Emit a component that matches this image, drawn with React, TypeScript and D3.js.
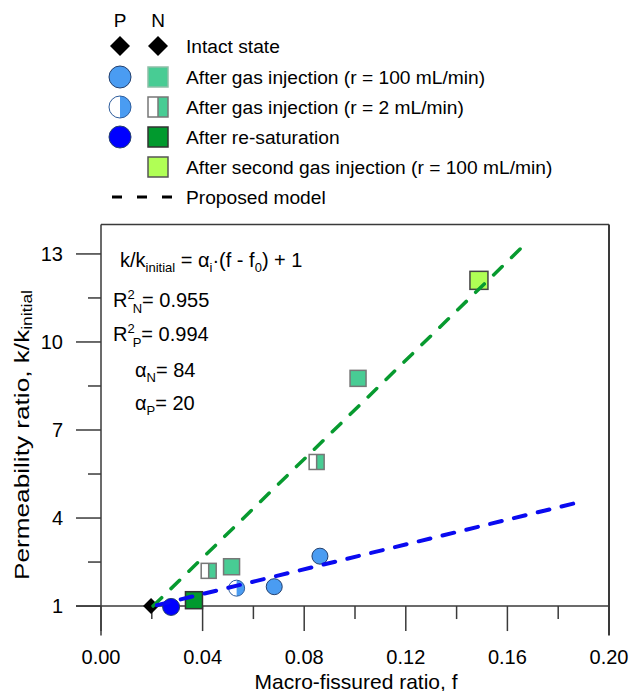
import React from 'react';
import * as d3 from 'd3';

// values
const intactState = [{ f: 0.0197, k: 1.0 }];
const pGas100 = [{ f: 0.0682, k: 1.66 }, { f: 0.0862, k: 2.7 }];
const pGas2 = [{ f: 0.0534, k: 1.61 }];
const pResat = [{ f: 0.0276, k: 0.97 }];
const nGas100 = [{ f: 0.0514, k: 2.34 }, { f: 0.1012, k: 8.76 }];
const nGas2 = [{ f: 0.0424, k: 2.2 }, { f: 0.0849, k: 5.91 }];
const nResat = [{ f: 0.0366, k: 1.2 }];
const nGasSecond = [{ f: 0.1488, k: 12.1 }];
const modelN = [{ f: 0.0205, k: 1.0 }, { f: 0.1666, k: 13.3 }];
const modelP = [{ f: 0.022, k: 1.03 }, { f: 0.1892, k: 4.56 }];

const xMajor = [0, 0.04, 0.08, 0.12, 0.16, 0.2];
const xMinor = [0.02, 0.06, 0.1, 0.14, 0.18];
const yMajor = [1, 4, 7, 10, 13];
const yMinor = [2.5, 5.5, 8.5, 11.5];

const legendLabels = [
  'Intact state',
  'After gas injection (r = 100 mL/min)',
  'After gas injection (r = 2 mL/min)',
  'After re-saturation',
  'After second gas injection (r = 100 mL/min)',
  'Proposed model',
];

const FONT = '"Liberation Sans", Arial, sans-serif';
const C = {
  lightBlue: '#4a9cf2',
  blue: '#0000ff',
  mint: '#48cc94',
  green: '#019a2e',
  lime: '#b0ff55',
  lineN: '#079a2f',
  lineP: '#0a0af0',
  axis: '#3a3a3a',
};

const x = d3.scaleLinear().domain([0, 0.2]).range([101, 609]);
const y = d3.scaleLinear().domain([0, 14]).range([635.4, 224.6]);

const Diamond = ({ cx, cy, r }: any) => (
  <path d={`M${cx},${cy - r}L${cx + r},${cy}L${cx},${cy + r}L${cx - r},${cy}Z`} fill="#000" />
);

const Circle = ({ cx, cy, r, fill, half }: any) => (
  <g>
    <circle cx={cx} cy={cy} r={r} fill={half ? '#fff' : fill} />
    {half && <path d={`M${cx},${cy - r}A${r},${r} 0 0 1 ${cx},${cy + r}Z`} fill={fill} />}
    <circle cx={cx} cy={cy} r={r} fill="none" stroke={half ? '#2d5c9c' : '#24406e'} strokeWidth={1} />
  </g>
);

const Square = ({ cx, cy, s, fill, half, stroke = '#666' }: any) => (
  <g>
    <rect x={cx - s / 2} y={cy - s / 2} width={s} height={s} fill={half ? '#fff' : fill} />
    {half && <rect x={cx} y={cy - s / 2} width={s / 2} height={s} fill={fill} />}
    {half && <line x1={cx} x2={cx} y1={cy - s / 2} y2={cy + s / 2} stroke={stroke} strokeWidth={1.5} />}
    <rect x={cx - s / 2} y={cy - s / 2} width={s} height={s} fill="none" stroke={stroke} strokeWidth={1.5} />
  </g>
);

const line = d3.line<{ f: number; k: number }>().x(d => x(d.f)).y(d => y(d.k));

export default function App() {
  const rows = [46, 77, 107, 137, 167, 197];
  const px = 120;
  const nx = 158;
  const tx = 186;
  return (
    <svg width={632} height={691} style={{ display: 'block', position: 'absolute', left: 0, top: 0 }} fontFamily={FONT}>
      <rect width={632} height={691} fill="#fff" />

      {/* legend */}
      <text x={px} y={20} fontSize={19} textAnchor="middle" dominantBaseline="central">P</text>
      <text x={nx} y={20} fontSize={19} textAnchor="middle" dominantBaseline="central">N</text>
      <Diamond cx={px} cy={rows[0]} r={10} />
      <Diamond cx={nx} cy={rows[0]} r={10} />
      <Circle cx={px} cy={rows[1]} r={11} fill={C.lightBlue} />
      <Square cx={nx} cy={rows[1]} s={20} fill={C.mint} stroke="#8fbfa8" />
      <Circle cx={px} cy={rows[2]} r={11} fill={C.lightBlue} half />
      <Square cx={nx} cy={rows[2]} s={20} fill={C.mint} half stroke="#777" />
      <Circle cx={px} cy={rows[3]} r={11} fill={C.blue} />
      <Square cx={nx} cy={rows[3]} s={20} fill={C.green} stroke="#333" />
      <Square cx={nx} cy={rows[4]} s={20} fill={C.lime} stroke="#555" />
      <line x1={112} x2={172} y1={rows[5]} y2={rows[5]} stroke="#000" strokeWidth={3} strokeDasharray="10 15" />
      {legendLabels.map((t, i) => (
        <text key={t} x={tx} y={rows[i]} fontSize={19.2} dominantBaseline="central">{t}</text>
      ))}

      {/* frame */}
      <line x1={x(0)} x2={x(0.2)} y1={y(14)} y2={y(14)} stroke={C.axis} strokeWidth={1.5} />
      <line x1={x(0)} x2={x(0)} y1={y(14)} y2={y(0)} stroke={C.axis} strokeWidth={1.5} />
      <line x1={x(0.2)} x2={x(0.2)} y1={y(14)} y2={y(0)} stroke={C.axis} strokeWidth={2} />
      <line x1={x(0) - 25} x2={x(0.2)} y1={y(1)} y2={y(1)} stroke={C.axis} strokeWidth={1.5} />

      {/* y axis ticks */}
      {yMajor.map(v => (
        <g key={v}>
          <line x1={x(0) - 25} x2={x(0)} y1={y(v)} y2={y(v)} stroke={C.axis} strokeWidth={1.5} />
          <text x={63} y={y(v)} fontSize={20} textAnchor="end" dominantBaseline="central">{v}</text>
        </g>
      ))}
      {yMinor.map(v => (
        <line key={v} x1={x(0) - 13} x2={x(0)} y1={y(v)} y2={y(v)} stroke={C.axis} strokeWidth={1.5} />
      ))}

      {/* x axis ticks */}
      {xMajor.map(v => (
        <g key={v}>
          <line x1={x(v)} x2={x(v)} y1={y(1)} y2={y(1) + 25} stroke={C.axis} strokeWidth={1.5} />
          <text x={x(v)} y={657} fontSize={20} textAnchor="middle" dominantBaseline="central">{v.toFixed(2)}</text>
        </g>
      ))}
      {xMinor.map(v => (
        <line key={v} x1={x(v)} x2={x(v)} y1={y(1)} y2={y(1) + 13} stroke={C.axis} strokeWidth={1.5} />
      ))}

      {/* axis titles */}
      <text x={356} y={681} fontSize={21} textAnchor="middle" dominantBaseline="central">Macro-fissured ratio, f</text>
      <text transform="translate(21,435) rotate(-90)" fontSize={21} textAnchor="middle" dominantBaseline="central"
        textLength={290} lengthAdjust="spacingAndGlyphs">
        Permeability ratio, k/k<tspan fontSize={14} dy={6}>initial</tspan>
      </text>

      {/* annotation */}
      <text x={120} y={267} fontSize={20}>
        k/k<tspan fontSize={13} dy={5}>initial</tspan>
        <tspan dy={-5}> = α</tspan>
        <tspan fontSize={13} dy={5}>i</tspan>
        <tspan dy={-5}>·(f - f</tspan>
        <tspan fontSize={13} dy={5}>0</tspan>
        <tspan dy={-5}>) + 1</tspan>
      </text>
      <text x={113} y={307} fontSize={20}>
        R<tspan fontSize={13} dy={-8}>2</tspan>
        <tspan fontSize={13} dy={14} dx={-2}>N</tspan>
        <tspan dy={-6}>= 0.955</tspan>
      </text>
      <text x={113} y={341} fontSize={20}>
        R<tspan fontSize={13} dy={-8}>2</tspan>
        <tspan fontSize={13} dy={14} dx={-2}>P</tspan>
        <tspan dy={-6}>= 0.994</tspan>
      </text>
      <text x={135} y={377} fontSize={20}>
        α<tspan fontSize={13} dy={5}>N</tspan>
        <tspan dy={-5}>= 84</tspan>
      </text>
      <text x={135} y={410} fontSize={20}>
        α<tspan fontSize={13} dy={5}>P</tspan>
        <tspan dy={-5}>= 20</tspan>
      </text>

      {/* markers */}
      {intactState.map((d, i) => <Diamond key={i} cx={x(d.f)} cy={y(d.k)} r={8} />)}
      {nResat.map((d, i) => <Square key={i} cx={x(d.f)} cy={y(d.k)} s={17} fill={C.green} stroke="#333" />)}
      {nGas2.map((d, i) => <Square key={i} cx={x(d.f)} cy={y(d.k)} s={15} fill={C.mint} half stroke="#777" />)}
      {nGas100.map((d, i) => <Square key={i} cx={x(d.f)} cy={y(d.k)} s={16} fill={C.mint} stroke="#777" />)}
      {nGasSecond.map((d, i) => <Square key={i} cx={x(d.f)} cy={y(d.k)} s={18} fill={C.lime} stroke="#444" />)}
      {pGas2.map((d, i) => <Circle key={i} cx={x(d.f)} cy={y(d.k)} r={8} fill={C.lightBlue} half />)}
      {pGas100.map((d, i) => <Circle key={i} cx={x(d.f)} cy={y(d.k)} r={8} fill={C.lightBlue} />)}
      {pResat.map((d, i) => <Circle key={i} cx={x(d.f)} cy={y(d.k)} r={8.5} fill={C.blue} />)}

      {/* proposed model lines */}
      <path d={line(modelN) || ''} fill="none" stroke={C.lineN} strokeWidth={3.5} strokeDasharray="12 13" strokeLinecap="round" />
      <path d={line(modelP) || ''} fill="none" stroke={C.lineP} strokeWidth={4} strokeDasharray="12 12.5" strokeLinecap="round" />
    </svg>
  );
}
